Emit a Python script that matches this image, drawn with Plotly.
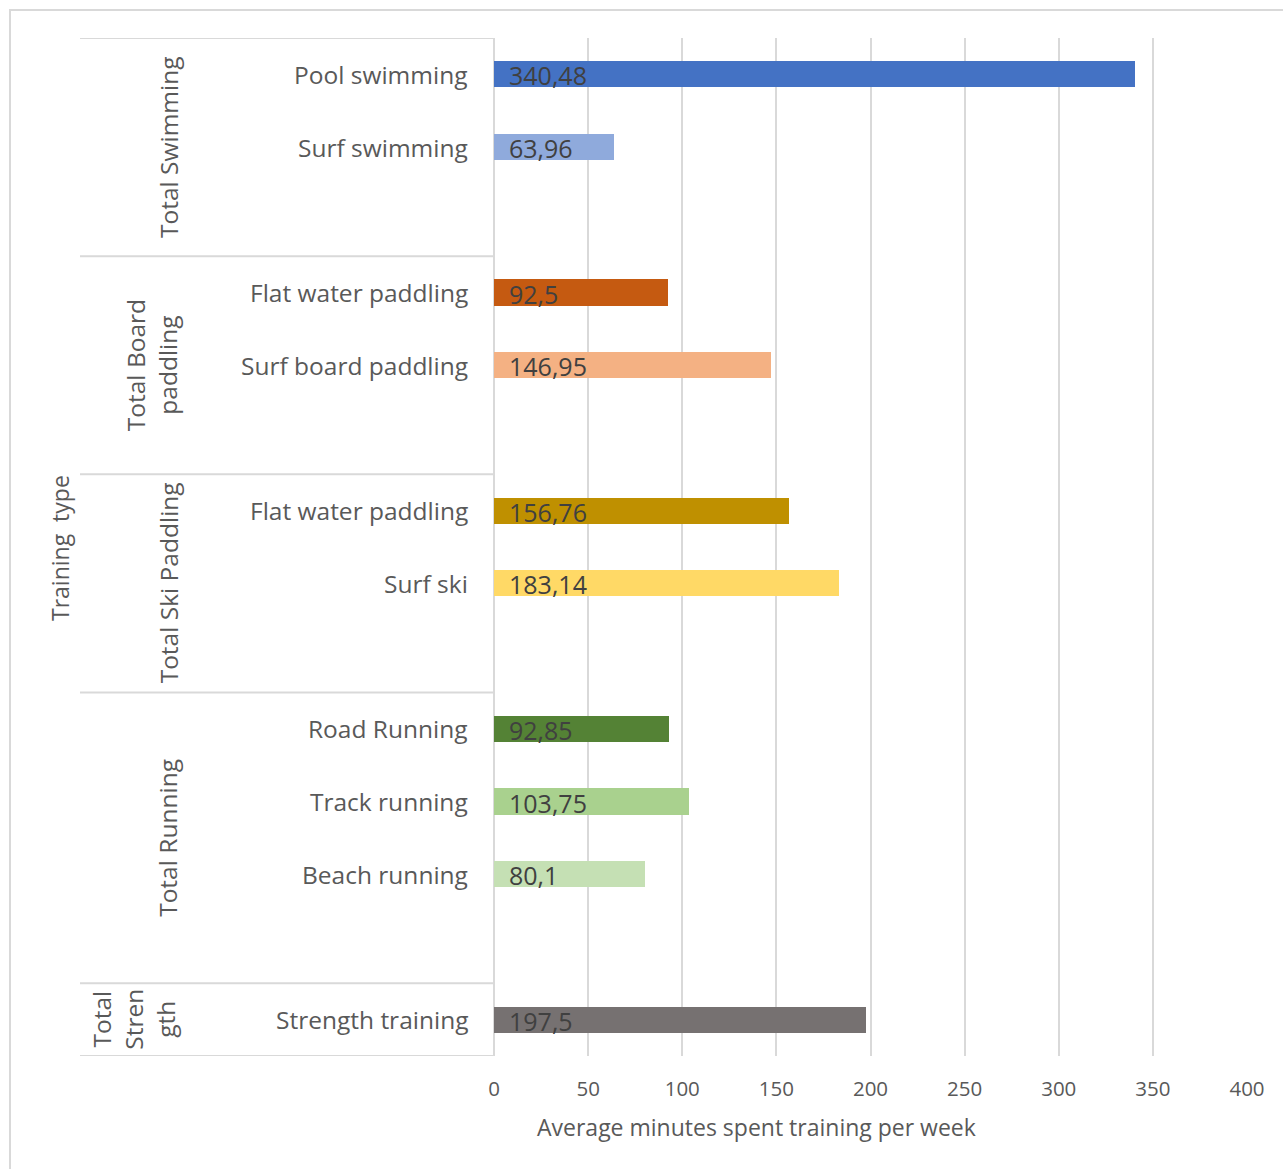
import plotly.graph_objects as go

# ---------------- data ----------------
group_labels = ["Total Swimming", "Total Board<br>paddling", "Total Ski Paddling",
                "Total Running", "Total<br>Stren<br>gth"]
group_sizes = [2, 2, 2, 3, 1]
categories = ["Pool swimming", "Surf swimming",
              "Flat water paddling", "Surf board paddling",
              "Flat water paddling", "Surf ski",
              "Road Running", "Track running", "Beach running",
              "Strength training"]
values = [340.48, 63.96, 92.5, 146.95, 156.76, 183.14, 92.85, 103.75, 80.1, 197.5]
x_ticks = [0, 50, 100, 150, 200, 250, 300, 350, 400]
x_title = "Average minutes spent training per week"
y_title = "Training\u00a0 type"

# ---------------- style ----------------
colors = ["#4472C4", "#8FAADC", "#C55A11", "#F4B183", "#BF9000", "#FFD966",
          "#548235", "#A9D18E", "#C5E0B4", "#767171"]
group_label_px = [168, 151, 168, 168, 134]   # horizontal centre of group label (px)
FONT = "Open Sans"
GRID = "#D9D9D9"
W, H = 1283, 1169
L, R, T, B = 494, 36, 38, 113
PW, PH = W - L - R, H - T - B

def px_to_paper_x(px):
    return (px - L) / PW

def px_to_paper_y(py):
    return (H - B - py) / PH

# slot positions: each group followed by one blank slot (except the last)
positions = []
boundaries = [-0.5]
group_centres = []
slot = 0
for gi, n in enumerate(group_sizes):
    start = slot
    for _ in range(n):
        positions.append(slot)
        slot += 1
    if gi < len(group_sizes) - 1:
        slot += 1
    end = slot - 0.5
    boundaries.append(end)
    group_centres.append((start - 0.5 + end) / 2)
n_slots = slot

fig = go.Figure()
fig.add_trace(go.Bar(
    x=values, y=positions, orientation="h",
    marker=dict(color=colors, line=dict(width=0)),
    width=0.36, hoverinfo="x",
))

annotations = []
# value labels
for v, p in zip(values, positions):
    annotations.append(dict(
        x=0, y=p, xref="x", yref="y", xanchor="left", yanchor="middle",
        xshift=13, yshift=-1, text=f"{v:g}".replace(".", ","), showarrow=False,
        font=dict(family=FONT, size=25, color="#404040")))
# category labels
for c, p in zip(categories, positions):
    annotations.append(dict(
        x=0, y=p, xref="paper", yref="y", xanchor="right", yanchor="middle",
        xshift=-24, text=c, showarrow=False,
        font=dict(family=FONT, size=24.5, color="#595959")))
# group labels
for g, cy, gx in zip(group_labels, group_centres, group_label_px):
    annotations.append(dict(
        x=px_to_paper_x(gx), y=cy, xref="paper", yref="y",
        xanchor="center", yanchor="middle", textangle=-90,
        text=g, showarrow=False,
        font=dict(family=FONT, size=24.5, color="#595959")))
# y axis title
annotations.append(dict(
    x=px_to_paper_x(60), y=px_to_paper_y(548), xref="paper", yref="paper",
    xanchor="center", yanchor="middle", textangle=-90,
    text=y_title, showarrow=False,
    font=dict(family=FONT, size=23, color="#595959")))
# x axis title
annotations.append(dict(
    x=px_to_paper_x(756), y=px_to_paper_y(1127), xref="paper", yref="paper",
    xanchor="center", yanchor="middle",
    text=x_title, showarrow=False,
    font=dict(family=FONT, size=23, color="#595959")))

shapes = []
for b in boundaries:
    shapes.append(dict(type="line", xref="paper", yref="y",
                       x0=px_to_paper_x(80), x1=0, y0=b, y1=b,
                       line=dict(color=GRID, width=2)))
# chart area border
shapes.append(dict(type="rect", xref="paper", yref="paper",
                   x0=px_to_paper_x(10), x1=px_to_paper_x(1300),
                   y0=px_to_paper_y(1200), y1=px_to_paper_y(10),
                   line=dict(color=GRID, width=2), fillcolor="rgba(0,0,0,0)",
                   layer="below"))

fig.update_layout(
    width=W, height=H,
    margin=dict(l=L, r=R, t=T, b=B, pad=0),
    paper_bgcolor="white", plot_bgcolor="white",
    showlegend=False,
    bargap=0,
    annotations=annotations,
    shapes=shapes,
    font=dict(family=FONT, color="#595959"),
)
fig.update_xaxes(
    range=[0, 400], tickvals=x_ticks, ticktext=[str(t) for t in x_ticks],
    showgrid=True, gridcolor=GRID, gridwidth=2,
    zeroline=True, zerolinecolor=GRID, zerolinewidth=2,
    showline=False, ticks="", ticklabelstandoff=18,
    tickfont=dict(family=FONT, size=20.5, color="#595959"),
    fixedrange=True,
)
fig.update_yaxes(
    range=[n_slots - 0.5, -0.5], showticklabels=False, showgrid=False,
    zeroline=False, showline=False, ticks="", fixedrange=True,
)

fig.write_html("out.html")
